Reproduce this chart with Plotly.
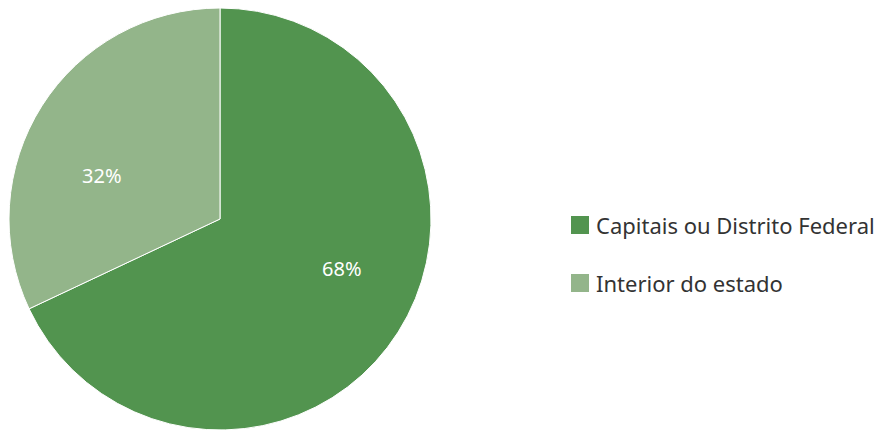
import math
import plotly.graph_objects as go

labels = ["Capitais ou Distrito Federal", "Interior do estado"]
values = [68, 32]
colors = ["#52944f", "#93b58a"]

W, H = 877, 430
cx, cy, r = 220, 219, 211

fig = go.Figure()
fig.add_trace(go.Pie(
    labels=labels, values=values, sort=False, direction="clockwise", rotation=0,
    marker=dict(colors=colors, line=dict(color="white", width=1)),
    textinfo="none",
    hoverinfo="label+percent", showlegend=False,
    domain=dict(x=[(cx - r) / W, (cx + r) / W],
                y=[max(0, 1 - (cy + r) / H), min(1, 1 - (cy - r) / H)]),
))

# percentage labels placed inside slices
total = sum(values)
cum = 0
for v in values:
    mid = (cum + v / 2) / total * 360 - 11
    cum += v
    d = 0.61 * r
    px = cx + 2 + d * math.sin(math.radians(mid))
    py = cy + 3 - d * math.cos(math.radians(mid))
    fig.add_annotation(text=f"{round(v / total * 100)}%", xref="paper", yref="paper",
                       x=px / W, y=1 - py / H, xanchor="center", yanchor="middle",
                       showarrow=False, font=dict(size=20, color="white", family="Noto Sans"))

legend_x, legend_y0, legend_dy = 571, 225, 58
for i, (lab, col) in enumerate(zip(labels, colors)):
    yc = legend_y0 + i * legend_dy
    fig.add_shape(type="rect", xref="paper", yref="paper",
                  x0=legend_x / W, x1=(legend_x + 18) / W,
                  y0=1 - (yc + 9) / H, y1=1 - (yc - 9) / H,
                  fillcolor=col, line=dict(width=0))
    fig.add_annotation(text=lab, xref="paper", yref="paper",
                       x=(legend_x + 23) / W, y=1 - yc / H,
                       xanchor="left", yanchor="middle", showarrow=False,
                       font=dict(size=22, color="#333333", family="Noto Sans"))

fig.update_layout(width=W, height=H, margin=dict(l=0, r=0, t=0, b=0),
                  paper_bgcolor="white", plot_bgcolor="white", showlegend=False)
fig.write_html("out.html")
